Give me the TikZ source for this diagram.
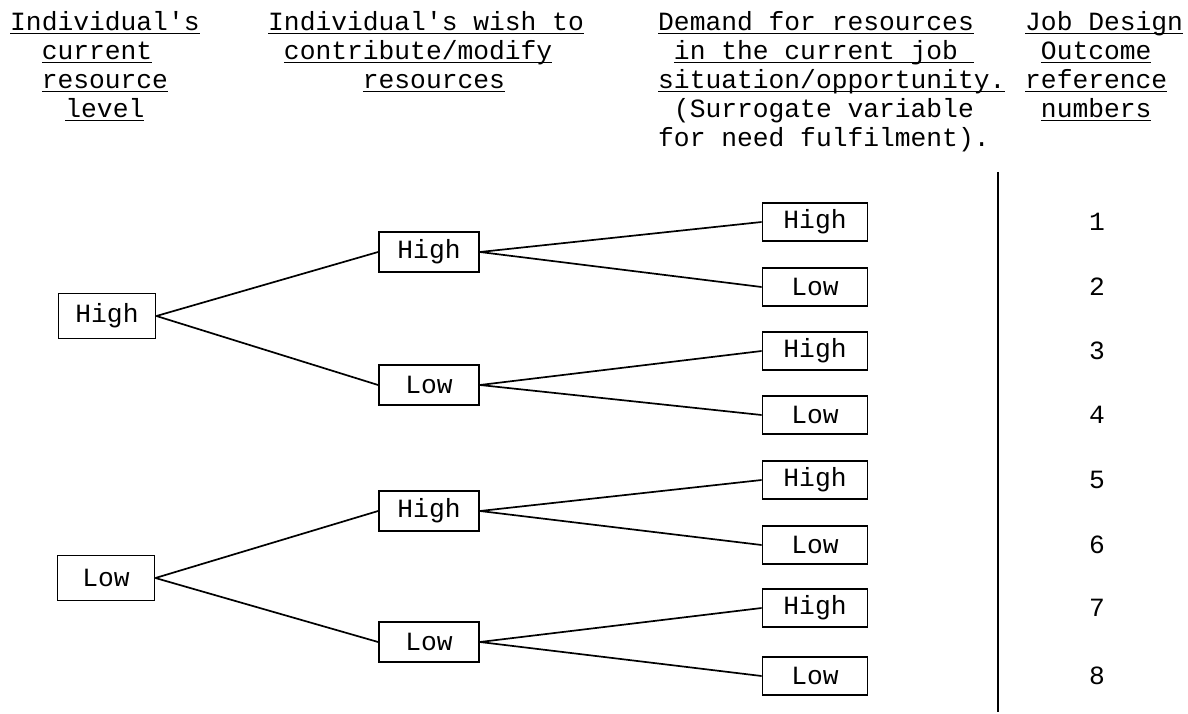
\documentclass[tikz,border=0pt]{standalone}
\usepackage{fontspec}
\setmainfont{Liberation Mono}[Ligatures=TeXOff]
\newsavebox\ulinebox
% typewriter-style underline: a rule at a fixed depth, crossing descenders
\newcommand\typeul[1]{\sbox\ulinebox{#1}\rlap{\rule[-3.5pt]{\wd\ulinebox}{1.9pt}}\usebox\ulinebox}
\begin{document}
\begin{tikzpicture}[x=1pt,y=-1pt,
  every node/.style={font=\fontsize{26.3}{29}\selectfont},
  hdr/.style={anchor=base west, inner sep=0pt},
  box/.style={draw, line width=1.8pt, inner sep=0pt, minimum width=#1},
  leftbox/.style={box=97pt, minimum height=45pt},
  midbox/.style={box=100pt, minimum height=40pt},
  rightbox/.style={box=105pt, minimum height=38pt},
  num/.style={inner sep=0pt},
  link/.style={line width=1.7pt}]
\useasboundingbox (0,0) rectangle (1188,714);
\def\cw{15.78}

% column headings
\node[hdr] (h1a) at (10,31) {\typeul{Individual's}};
\node[hdr] (h1b) at ({10+2*\cw},60) {\typeul{current}};
\node[hdr] (h1c) at ({10+2*\cw},89) {\typeul{resource}};
\node[hdr] (h1d) at ({10+3.5*\cw},118) {\typeul{level}};

\node[hdr] (h2a) at (268,31) {\typeul{Individual's wish to}};
\node[hdr] (h2b) at ({268+1*\cw},60) {\typeul{contribute/modify}};
\node[hdr] (h2c) at ({268+6*\cw},89) {\typeul{resources}};

\node[hdr] (h3a) at (658,31) {\typeul{Demand for resources}};
\node[hdr] (h3b) at ({658+1*\cw},60) {\typeul{in the current job\ }};
\node[hdr] (h3c) at (658,89) {\typeul{situation/opportunity.}};
\node[hdr] (h3d) at ({658+1*\cw},118) {(Surrogate variable};
\node[hdr] (h3e) at (658,147) {for need fulfilment).};

\node[hdr] (h4a) at (1025,31) {\typeul{Job Design}};
\node[hdr] (h4b) at ({1025+1*\cw},60) {\typeul{Outcome}};
\node[hdr] (h4c) at (1025,89) {\typeul{reference}};
\node[hdr] (h4d) at ({1025+1*\cw},118) {\typeul{numbers}};

% first level: current resource level
\node[leftbox] (L1) at (107,316) {High};
\node[leftbox] (L2) at (106,578) {Low};

% second level: wish to contribute
\node[midbox] (M1) at (429,252) {High};
\node[midbox] (M2) at (429,385) {Low};
\node[midbox] (M3) at (429,511) {High};
\node[midbox] (M4) at (429,642) {Low};

% third level: demand for resources
\node[rightbox] (R1) at (815,222) {High};
\node[rightbox] (R2) at (815,287) {Low};
\node[rightbox] (R3) at (815,351) {High};
\node[rightbox] (R4) at (815,415) {Low};
\node[rightbox] (R5) at (815,480) {High};
\node[rightbox] (R6) at (815,545) {Low};
\node[rightbox] (R7) at (815,608) {High};
\node[rightbox] (R8) at (815,676) {Low};

% outcome reference numbers
\node[num] (N1) at (1097,222) {1};
\node[num] (N2) at (1097,287) {2};
\node[num] (N3) at (1097,351) {3};
\node[num] (N4) at (1097,415) {4};
\node[num] (N5) at (1097,480) {5};
\node[num] (N6) at (1097,545) {6};
\node[num] (N7) at (1097,608) {7};
\node[num] (N8) at (1097,676) {8};

% separator between the tree and the numbers
\coordinate (sepTop) at (998,172);
\coordinate (sepBot) at (998,712);
\draw[line width=2.2pt] (sepTop) -- (sepBot);

% branches
\draw[link] (L1.east) -- (M1.west);
\draw[link] (L1.east) -- (M2.west);
\draw[link] (L2.east) -- (M3.west);
\draw[link] (L2.east) -- (M4.west);
\draw[link] (M1.east) -- (R1.west);
\draw[link] (M1.east) -- (R2.west);
\draw[link] (M2.east) -- (R3.west);
\draw[link] (M2.east) -- (R4.west);
\draw[link] (M3.east) -- (R5.west);
\draw[link] (M3.east) -- (R6.west);
\draw[link] (M4.east) -- (R7.west);
\draw[link] (M4.east) -- (R8.west);
\end{tikzpicture}
\end{document}
